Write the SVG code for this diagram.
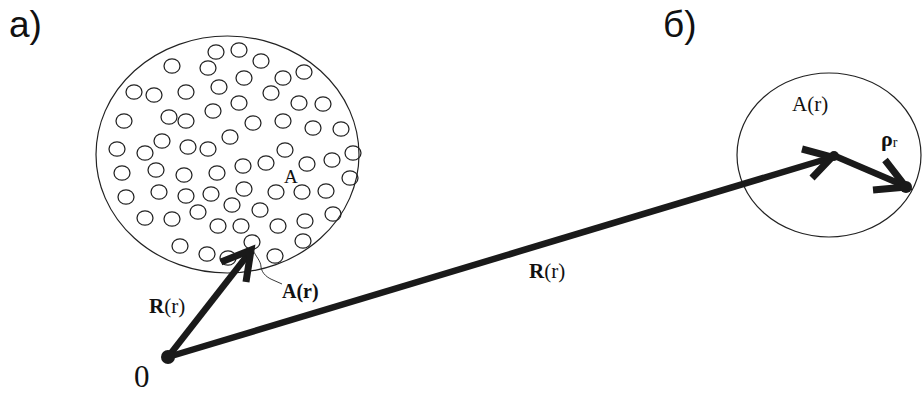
<svg xmlns="http://www.w3.org/2000/svg" width="923" height="394" viewBox="0 0 923 394">
<style>
.big{fill:none;stroke:#222;stroke-width:1.2}
.p{fill:none;stroke:#222;stroke-width:1.25}
.vec{fill:none;stroke:#1a1a1a;stroke-width:6.5;stroke-linecap:butt}
.head{fill:none;stroke:#1a1a1a;stroke-width:7;stroke-linejoin:miter;stroke-linecap:butt}
.dot{fill:#1a1a1a}
.m{font-family:"Liberation Serif","Times New Roman",serif;fill:#111}
.s{font-family:"Liberation Sans",Arial,sans-serif;fill:#111}
</style>
<defs>
<ellipse id="pc" rx="8" ry="7.2" class="p"/>
</defs>
<rect width="923" height="394" fill="#fff"/>
<g id="ensemble">
<ellipse cx="227.5" cy="154.5" rx="131.5" ry="118.5" class="big"/>
<g id="particles">
<use href="#pc" x="216" y="52"/><use href="#pc" x="239" y="50"/><use href="#pc" x="261" y="61"/>
<use href="#pc" x="172" y="66"/><use href="#pc" x="208" y="68"/><use href="#pc" x="244" y="78"/>
<use href="#pc" x="283" y="78"/><use href="#pc" x="304" y="72"/><use href="#pc" x="134" y="92"/>
<use href="#pc" x="154" y="95"/><use href="#pc" x="186" y="92"/><use href="#pc" x="219" y="87"/>
<use href="#pc" x="271" y="93"/><use href="#pc" x="299" y="103"/><use href="#pc" x="323" y="104"/>
<use href="#pc" x="239" y="103"/><use href="#pc" x="213" y="111"/><use href="#pc" x="124" y="121"/>
<use href="#pc" x="169" y="117"/><use href="#pc" x="186" y="121"/><use href="#pc" x="253" y="123"/>
<use href="#pc" x="283" y="121"/><use href="#pc" x="313" y="128"/><use href="#pc" x="341" y="129"/>
<use href="#pc" x="230" y="137"/><use href="#pc" x="117" y="149"/><use href="#pc" x="145" y="153"/>
<use href="#pc" x="162" y="141"/><use href="#pc" x="188" y="147"/><use href="#pc" x="208" y="149"/>
<use href="#pc" x="285" y="150"/><use href="#pc" x="353" y="153"/><use href="#pc" x="122" y="173"/>
<use href="#pc" x="156" y="170"/><use href="#pc" x="184" y="175"/><use href="#pc" x="217" y="173"/>
<use href="#pc" x="243" y="166"/><use href="#pc" x="266" y="163"/><use href="#pc" x="307" y="164"/>
<use href="#pc" x="332" y="160"/><use href="#pc" x="350" y="178"/><use href="#pc" x="126" y="197"/>
<use href="#pc" x="159" y="192"/><use href="#pc" x="186" y="196"/><use href="#pc" x="211" y="194"/>
<use href="#pc" x="244" y="189"/><use href="#pc" x="276" y="192"/><use href="#pc" x="302" y="192"/>
<use href="#pc" x="326" y="191"/><use href="#pc" x="145" y="218"/><use href="#pc" x="172" y="219"/>
<use href="#pc" x="198" y="212"/><use href="#pc" x="232" y="205"/><use href="#pc" x="260" y="210"/>
<use href="#pc" x="333" y="214"/><use href="#pc" x="218" y="226"/><use href="#pc" x="241" y="226"/>
<use href="#pc" x="278" y="226"/><use href="#pc" x="305" y="221"/><use href="#pc" x="180" y="246"/>
<use href="#pc" x="207" y="254"/><use href="#pc" x="228" y="258"/><use href="#pc" x="252" y="242"/>
<use href="#pc" x="275" y="256"/><use href="#pc" x="303" y="241"/>
</g>
<text class="m" x="284" y="183" font-size="19">A</text>
</g>
<g id="region-b">
<ellipse cx="829" cy="155" rx="92" ry="82" class="big"/>
<text class="m" x="792" y="111" font-size="21">A(r)</text>
<text class="m" x="881" y="146" font-size="22" font-weight="bold">ρ<tspan font-size="14" font-weight="normal" dy="1">r</tspan></text>
</g>
<g id="connectors">
<line class="vec" x1="168" y1="357" x2="250" y2="252"/>
<polyline class="head" points="221,262 251,250 246,282"/>
<line class="vec" x1="168" y1="357" x2="833" y2="157"/>
<polyline class="head" points="802,149 832,157 812,178"/>
<line class="vec" x1="835" y1="156" x2="905" y2="186"/>
<polyline class="head" points="885,160 906,187 873,190"/>
<path d="M253,250 C256,257 261,261 261,267 C262,274 268,278 273,280 L282,284" fill="none" stroke="#222" stroke-width="0.9"/>
</g>
<g id="origin">
<circle class="dot" cx="168" cy="357" r="7"/>
<text class="m" x="134" y="387" font-size="31">0</text>
</g>
<g id="point-a"><circle class="dot" cx="834" cy="156" r="5"/></g>
<g id="point-b"><circle class="dot" cx="906" cy="187" r="6"/></g>
<g id="labels">
<text class="m" x="149" y="313" font-size="21"><tspan font-weight="bold">R</tspan>(r)</text>
<text class="m" x="529" y="278" font-size="21"><tspan font-weight="bold">R</tspan>(r)</text>
<text class="m" x="282" y="298" font-size="20" font-weight="bold">A(r)</text>
<text class="s" x="9" y="37" font-size="37">а)</text>
<text class="s" x="663" y="37" font-size="37">б)</text>
</g>
</svg>
